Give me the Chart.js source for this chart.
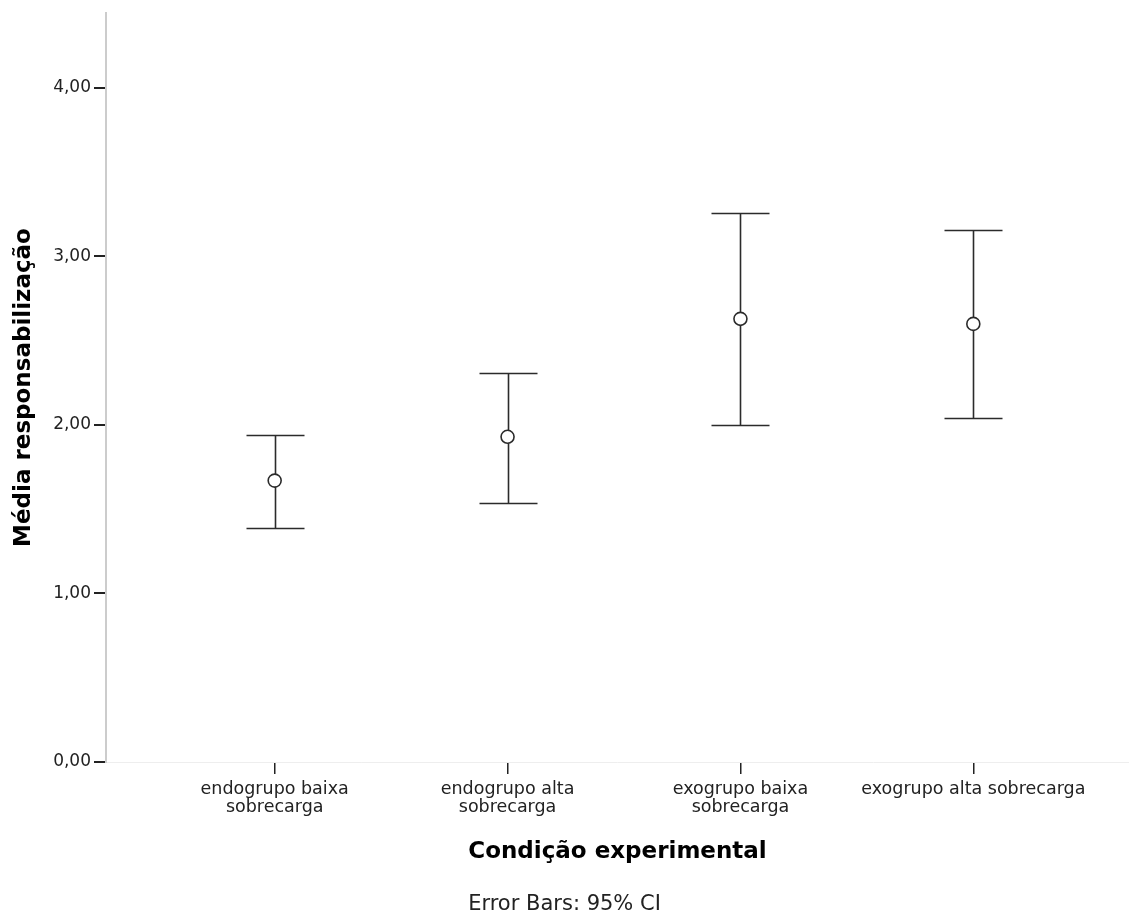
<!DOCTYPE html>
<html><head><meta charset="utf-8">
<script src="https://cdn.jsdelivr.net/npm/chart.js@4/dist/chart.umd.min.js"></script>
<style>html,body{margin:0;padding:0;background:#fff;} #wrap{width:1129px;height:921px;}</style>
</head><body><div id="wrap"><canvas id="c" width="1129" height="921"></canvas></div>
<script>
const categories = [["endogrupo baixa","sobrecarga"],["endogrupo alta","sobrecarga"],["exogrupo baixa","sobrecarga"],["exogrupo alta sobrecarga"]];
const categoryPositions = [1, 2, 3, 4];
const means = [1.67, 1.93, 2.63, 2.60];
const lowerCI = [1.39, 1.54, 2.00, 2.04];
const upperCI = [1.94, 2.31, 3.26, 3.16];
const yTicks = [0, 1, 2, 3, 4];

const errorBars = {
  id: 'errorBars',
  beforeDatasetsDraw(chart) {
    const {ctx, scales: {x, y}} = chart;
    ctx.save();
    ctx.strokeStyle = '#2b2b2b';
    ctx.lineWidth = 1.6;
    categoryPositions.forEach((c, i) => {
      const px = Math.round(x.getPixelForValue(c)) + 0.5;
      const pl = Math.round(y.getPixelForValue(lowerCI[i])) + 0.5;
      const pu = Math.round(y.getPixelForValue(upperCI[i])) + 0.5;
      const hw = 29;
      ctx.beginPath();
      ctx.moveTo(px, pu); ctx.lineTo(px, pl);
      ctx.moveTo(px - hw, pu); ctx.lineTo(px + hw, pu);
      ctx.moveTo(px - hw, pl); ctx.lineTo(px + hw, pl);
      ctx.stroke();
    });
    ctx.restore();
  }
};

new Chart(document.getElementById('c'), {
  type: 'scatter',
  data: {
    datasets: [{
      data: categoryPositions.map((c, i) => ({x: c, y: means[i]})),
      pointRadius: 6.5, pointHoverRadius: 6.5,
      borderColor: '#2b2b2b', backgroundColor: '#ffffff', borderWidth: 1.6,
      showLine: false
    }]
  },
  options: {
    responsive: false, animation: false, devicePixelRatio: 1,
    layout: {autoPadding: false, padding: {top: 13, left: 0, right: 0, bottom: 0}},
    plugins: {
      legend: {display: false},
      tooltip: {enabled: false},
      title: {
        display: true, position: 'bottom', text: 'Error Bars: 95% CI', color: '#222',
        font: {family: 'DejaVu Sans', size: 21, weight: 'normal', lineHeight: 1.2},
        padding: {top: 20.4, bottom: 3.4}
      }
    },
    scales: {
      x: {
        type: 'linear', min: 0.2757, max: 4.6685,
        afterBuildTicks(s) { s.ticks = categoryPositions.map(v => ({value: v})); },
        afterFit(s) { s.height = 110; s.paddingLeft = 0; s.paddingRight = 0; },
        ticks: {
          autoSkip: false, maxRotation: 0, minRotation: 0, padding: 6, color: '#222',
          font: {family: 'DejaVu Sans', size: 17.5, lineHeight: 1.03},
          callback(v) { return categories[categoryPositions.indexOf(v)]; }
        },
        grid: {drawOnChartArea: false, drawTicks: true, tickLength: 12, tickColor: '#222', lineWidth: 1.5},
        border: {display: true, color: '#eeeeee', width: 1},
        title: {
          display: true, text: 'Condição experimental', color: '#000',
          font: {family: 'DejaVu Sans', size: 23, weight: 'bold', lineHeight: 1.2},
          padding: {top: 0, bottom: 6}
        }
      },
      y: {
        min: 0, max: 4.445,
        afterBuildTicks(s) { s.ticks = yTicks.map(v => ({value: v})); },
        afterFit(s) { s.width = 106; s.paddingTop = 0; s.paddingBottom = 0; },
        ticks: {
          padding: 3, color: '#222',
          font: {family: 'DejaVu Sans', size: 17},
          callback(v) { return v.toFixed(2).replace('.', ','); }
        },
        grid: {drawOnChartArea: false, drawTicks: true, tickLength: 12, tickColor: '#222', lineWidth: 2},
        border: {display: true, color: '#cccccc', width: 2},
        title: {
          display: true, text: 'Média responsabilização', color: '#000',
          font: {family: 'DejaVu Sans', size: 23, weight: 'bold', lineHeight: 1.2},
          padding: {top: 10, bottom: 0}
        }
      }
    }
  },
  plugins: [errorBars]
});
</script>
</body></html>
